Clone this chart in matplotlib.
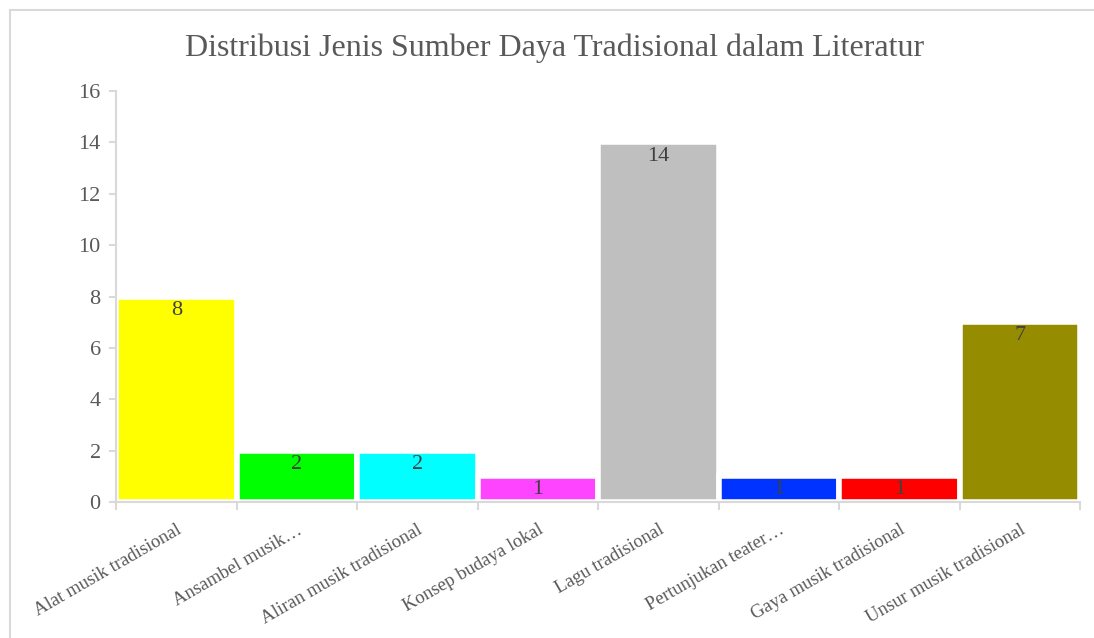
import numpy as np
import matplotlib
matplotlib.use("Agg")
import matplotlib.pyplot as plt
from matplotlib.patches import Rectangle

plt.rcParams['font.family'] = ['Liberation Serif', 'DejaVu Serif']

# data
categories = ["Alat musik tradisional", "Ansambel musik\u2026", "Aliran musik tradisional",
              "Konsep budaya lokal", "Lagu tradisional", "Pertunjukan teater\u2026",
              "Gaya musik tradisional", "Unsur musik tradisional"]
counts = [8, 2, 2, 1, 14, 1, 1, 7]
bar_colors = ["#FFFF00", "#00FF00", "#00FFFF", "#FF44FF", "#BFBFBF", "#0033FF", "#FF0000", "#968C00"]
y_ticks = [0, 2, 4, 6, 8, 10, 12, 14, 16]

grid_col = "#D9D9D9"
text_col = "#595959"

fig = plt.figure(figsize=(10.94, 6.38), dpi=100)

# chart frame
frame = Rectangle((10 / 1094, -0.01), 1.0, 1 - 10 / 638 + 0.01, transform=fig.transFigure,
                  facecolor="white", edgecolor=grid_col, linewidth=1.5, zorder=-10)
fig.patches.append(frame)

ax = fig.add_axes([116 / 1094, 1 - 502 / 638, (1080 - 116) / 1094, (502 - 91) / 638])
ax.set_facecolor("none")

x = np.arange(len(categories))
bars = ax.bar(x, counts, width=1.0, color=bar_colors, edgecolor="white", linewidth=4, zorder=2)

for xi, v in zip(x, counts):
    ax.annotate(str(v), (xi, v), xytext=(0, -3), textcoords="offset points",
                ha="center", va="top", fontsize=16, color="#404040", zorder=3)

ax.set_xlim(-0.5, len(categories) - 0.5)
ax.set_ylim(0, 16)
ax.set_yticks(y_ticks)
ax.tick_params(axis="y", labelsize=16, labelcolor=text_col, color=grid_col, length=5, width=1.5, pad=6)

ax.set_xticks(x)
ax.set_xticklabels(categories, rotation=30, ha="right", rotation_mode="anchor",
                   fontsize=13.5, color=text_col)
ax.tick_params(axis="x", which="major", length=0, pad=14)
ax.set_xticks(np.arange(-0.5, len(categories)), minor=True)
ax.tick_params(axis="x", which="minor", length=6, width=1.5, color=grid_col)

for side in ["top", "right"]:
    ax.spines[side].set_visible(False)
for side in ["left", "bottom"]:
    ax.spines[side].set_color(grid_col)
    ax.spines[side].set_linewidth(1.5)

fig.text(555 / 1094, 1 - 48 / 638, "Distribusi Jenis Sumber Daya Tradisional dalam Literatur",
         ha="center", va="center", fontsize=23, color=text_col)

fig.savefig("out.png", dpi=100)
